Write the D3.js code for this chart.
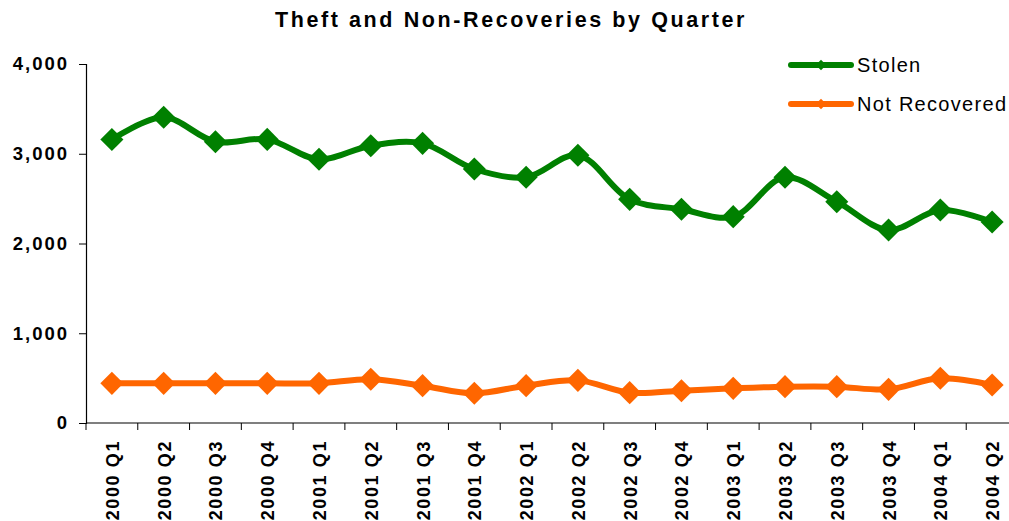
<!DOCTYPE html>
<html>
<head>
<meta charset="utf-8">
<script src="https://cdn.jsdelivr.net/npm/d3@7"></script>
<style>
  html, body { margin: 0; padding: 0; background: #fff; }
  svg { display: block; font-family: "Liberation Sans", Arial, sans-serif; }
</style>
</head>
<body>
<div id="chart"></div>
<script>
const quarters = ["2000 Q1", "2000 Q2", "2000 Q3", "2000 Q4", "2001 Q1", "2001 Q2",
  "2001 Q3", "2001 Q4", "2002 Q1", "2002 Q2", "2002 Q3", "2002 Q4",
  "2003 Q1", "2003 Q2", "2003 Q3", "2003 Q4", "2004 Q1", "2004 Q2"];
const stolen = [3158, 3406, 3134, 3160, 2938, 3090, 3116, 2830, 2738, 2983,
  2492, 2381, 2299, 2738, 2466, 2150, 2373, 2240];
const notRecovered = [442, 442, 442, 442, 442, 487, 416, 331, 416, 475,
  338, 360, 386, 405, 405, 375, 498, 423];
const yTicks = [0, 1000, 2000, 3000, 4000];

const width = 1009, height = 521;
const margin = { left: 86, right: -9, top: 64, bottom: 98 };

const svg = d3.select("#chart").append("svg")
  .attr("width", width)
  .attr("height", height);

const x = d3.scaleBand()
  .domain(quarters)
  .range([margin.left, width - margin.right]);

const y = d3.scaleLinear()
  .domain([0, 4000])
  .range([height - margin.bottom, margin.top]);

// title
svg.append("text")
  .attr("x", 511)
  .attr("y", 27)
  .attr("text-anchor", "middle")
  .attr("font-size", 21.5)
  .attr("font-weight", "bold")
  .attr("letter-spacing", 2.6)
  .text("Theft and Non-Recoveries by Quarter");

// y axis
const yAxis = svg.append("g")
  .attr("transform", `translate(${margin.left},0)`)
  .call(d3.axisLeft(y).tickValues(yTicks).tickSize(7).tickPadding(10)
    .tickFormat(d3.format(",")));
yAxis.select(".domain").attr("stroke", "#000").attr("stroke-width", 1.2);
yAxis.selectAll(".tick line").attr("stroke", "#000");
yAxis.selectAll(".tick text")
  .attr("font-family", "Liberation Sans, Arial, sans-serif")
  .attr("font-size", 18.5)
  .attr("font-weight", "bold")
  .attr("letter-spacing", 2)
  .attr("fill", "#000");

// x axis: ticks between categories
const xAxis = svg.append("g")
  .attr("transform", `translate(0,${y(0)})`);
xAxis.append("line")
  .attr("x1", x.range()[0]).attr("x2", x.range()[1])
  .attr("stroke", "#000").attr("stroke-width", 1.2);
xAxis.selectAll(".sep")
  .data(quarters)
  .enter().append("line")
  .attr("x1", d => x(d)).attr("x2", d => x(d))
  .attr("y1", 0).attr("y2", 7)
  .attr("stroke", "#000");
xAxis.selectAll(".lbl")
  .data(quarters)
  .enter().append("text")
  .attr("transform", d => `translate(${x(d) + x.bandwidth() / 2 + 7},17) rotate(-90)`)
  .attr("text-anchor", "end")
  .attr("font-size", 18)
  .attr("font-weight", "bold")
  .attr("letter-spacing", 1.6)
  .text(d => d);

// series
const series = [
  { name: "Stolen", values: stolen, color: "#008000" },
  { name: "Not Recovered", values: notRecovered, color: "#FF6600" }
];

const line = d3.line()
  .x((d, i) => x(quarters[i]) + x.bandwidth() / 2)
  .y(d => y(d))
  .curve(d3.curveCatmullRom.alpha(0.5));

const diamond = d3.symbol().type(d3.symbolDiamond2);

series.forEach(s => {
  svg.append("path")
    .datum(s.values)
    .attr("d", line)
    .attr("fill", "none")
    .attr("stroke", s.color)
    .attr("stroke-width", 6)
    .attr("stroke-linejoin", "round");

  svg.selectAll(null)
    .data(s.values)
    .enter().append("path")
    .attr("d", diamond.size(340)())
    .attr("transform", (d, i) => `translate(${x(quarters[i]) + x.bandwidth() / 2},${y(d)})`)
    .attr("fill", s.color);
});

// legend
const legend = svg.append("g");
series.forEach((s, i) => {
  const ly = 65 + i * 39;
  legend.append("line")
    .attr("x1", 791).attr("x2", 851)
    .attr("y1", ly).attr("y2", ly)
    .attr("stroke", s.color)
    .attr("stroke-width", 6)
    .attr("stroke-linecap", "round");
  legend.append("path")
    .attr("d", diamond.size(70)())
    .attr("transform", `translate(821,${ly})`)
    .attr("fill", s.color);
  legend.append("text")
    .attr("x", 857)
    .attr("y", ly + 7)
    .attr("font-size", 20)
    .attr("letter-spacing", 1.3)
    .text(s.name);
});
</script>
</body>
</html>
